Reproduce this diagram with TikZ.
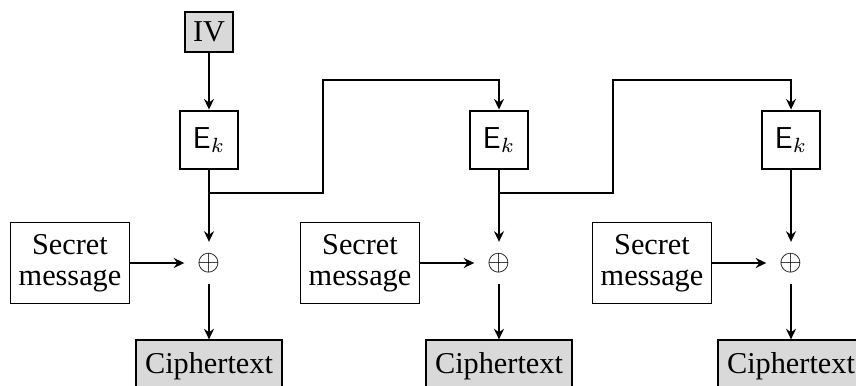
\documentclass[tikz,border=0pt]{standalone}
\usepackage{fontspec}
\setmainfont{Liberation Serif}
\usetikzlibrary{arrows.meta}
\begin{document}
\begin{tikzpicture}[x=0.34pt,y=-0.34pt,
  every node/.style={font=\fontsize{10.3}{11.5}\selectfont},
  wire/.style={line width=0.7pt},
  arr/.style={wire,-{Stealth[length=3.6pt,width=3.4pt,inset=1.2pt]}},
  ivbox/.style={draw,line width=0.7pt,fill=black!15,minimum width=16.3pt,minimum height=13.6pt,inner sep=0pt},
  encbox/.style={draw,line width=0.7pt,minimum width=19.7pt,minimum height=20pt,inner sep=0pt},
  msgbox/.style={draw,line width=0.6pt,align=center,minimum width=40.5pt,minimum height=27.5pt,inner sep=0pt},
  ctbox/.style={draw,line width=0.6pt,fill=black!15,minimum width=49.6pt,minimum height=17.5pt,inner sep=0pt},
  xorsym/.style={minimum width=16.4pt,minimum height=14pt,inner sep=0pt}]
\useasboundingbox (0,0) rectangle (856,385);

\node[ivbox] (iv) at (209,32) {IV};

% three encryption stages
\foreach \i/\c in {1/209,2/499,3/791}{
  \node[encbox] (e\i) at (\c,140) {\textsf{E}$_k$};
  \node[xorsym] (x\i) at (\c,263) {$\oplus$};
  \node[msgbox] (m\i) at (\c-139,263) {Secret\\[-1pt]message};
  \node[ctbox] (c\i) at (\c,366) {Ciphertext};
  \draw[arr] (e\i.south) -- (x\i.north);
  \draw[arr] (m\i.east) -- (x\i.west);
  \draw[arr] (x\i.south) -- (c\i.north);
}

\draw[arr] (iv.south) -- (e1.north);

% feedback of each block output into the next cipher block
\coordinate (j1) at (323,193);
\coordinate (t1) at (323,80);
\coordinate (j2) at (613,193);
\coordinate (t2) at (613,80);
\draw[arr] (e1.south |- j1) -- (j1) -- (t1) -- (t1 -| e2.north) -- (e2.north);
\draw[arr] (e2.south |- j2) -- (j2) -- (t2) -- (t2 -| e3.north) -- (e3.north);
\end{tikzpicture}
\end{document}
